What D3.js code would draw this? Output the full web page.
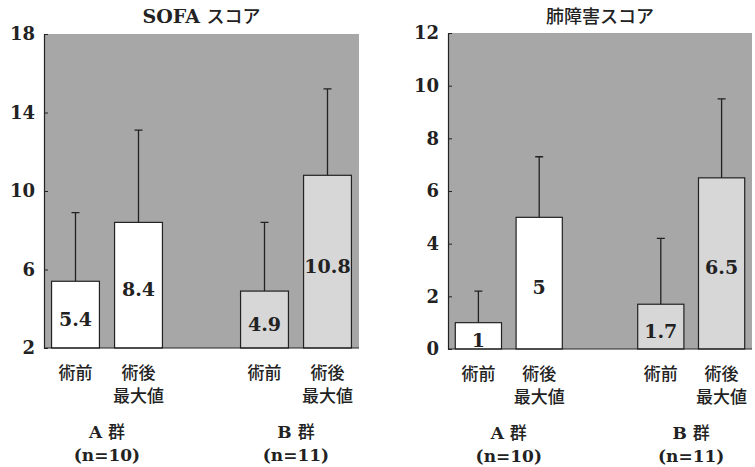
<!DOCTYPE html>
<html>
<head>
<meta charset="utf-8">
<script src="https://cdn.jsdelivr.net/npm/d3@7"></script>
<style>
  body { margin: 0; background: #fff; }
  svg { display: block; }
</style>
</head>
<body>
<div id="chart"></div>
<script>
const width = 755, height = 467;

// data
const slots = ["A0", "A1", "gap", "B0", "B1"];
const barKeys = ["A0", "A1", "B0", "B1"];
const barLabels = [["術前"], ["術後", "最大値"], ["術前"], ["術後", "最大値"]];
const groupLabels = [["A 群", "(n=10)"], ["B 群", "(n=11)"]];
const groupSlots = [["A0", "A1"], ["B0", "B1"]];

const sofaMean = [5.4, 8.4, 4.9, 10.8];
const sofaSD = [3.5, 4.7, 3.5, 4.4];
const sofaTicks = [2, 6, 10, 14, 18];

const lungMean = [1, 5, 1.7, 6.5];
const lungSD = [1.2, 2.3, 2.5, 3.0];
const lungTicks = [0, 2, 4, 6, 8, 10, 12];

const serif = "'DejaVu Serif', 'Liberation Serif', serif";
const cjk = "'Noto Sans CJK JP', sans-serif";
const bgGray = "#a7a7a7", bGray = "#d7d7d7", ink = "#222";

const svg = d3.select("#chart").append("svg")
  .attr("width", width).attr("height", height);

function panel(opt) {
  const x = d3.scaleBand().domain(slots)
    .range([opt.left, opt.right]).paddingInner(0.24).paddingOuter(0.12);
  const y = d3.scaleLinear().domain(opt.domain).range([opt.bottom, opt.top]);
  const g = svg.append("g");

  // gray plot area
  g.append("rect")
    .attr("x", opt.left).attr("y", opt.top)
    .attr("width", opt.right - opt.left).attr("height", opt.bottom - opt.top)
    .attr("fill", bgGray);

  // title
  const t = g.append("text")
    .attr("x", (opt.left + opt.right) / 2).attr("y", 23)
    .attr("text-anchor", "middle").attr("fill", ink);
  opt.title.forEach(p => {
    t.append("tspan").text(p[0])
      .attr("font-family", p[1] ? serif : cjk)
      .attr("font-weight", p[1] ? "bold" : 500)
      .attr("font-size", p[1] ? 19 : 18);
  });

  const data = barKeys.map((k, i) => ({k, i, m: opt.mean[i], sd: opt.sd[i]}));

  // error bars (upper only)
  const cap = 4;
  g.selectAll(".err").data(data).join("path")
    .attr("d", d => {
      const cx = x(d.k) + x.bandwidth() / 2;
      return `M${cx},${y(d.m)}V${y(d.m + d.sd)}M${cx - cap},${y(d.m + d.sd)}H${cx + cap}`;
    })
    .attr("stroke", ink).attr("stroke-width", 1.3).attr("fill", "none");

  // bars
  g.selectAll(".bar").data(data).join("rect")
    .attr("x", d => x(d.k)).attr("width", x.bandwidth())
    .attr("y", d => y(d.m)).attr("height", d => opt.bottom - y(d.m))
    .attr("fill", d => d.k[0] === "A" ? "#fff" : bGray)
    .attr("stroke", ink).attr("stroke-width", 1.2);

  // value labels
  g.selectAll(".val").data(data).join("text")
    .attr("x", d => x(d.k) + x.bandwidth() / 2)
    .attr("y", d => (y(d.m) + opt.bottom) / 2 + 11)
    .attr("text-anchor", "middle")
    .attr("font-family", serif).attr("font-weight", "bold").attr("font-size", 19)
    .attr("fill", ink)
    .text(d => d.m);

  // axis
  const ax = g.append("g")
    .attr("transform", `translate(${opt.left},0)`)
    .call(d3.axisLeft(y).tickValues(opt.ticks).tickSizeInner(-4).tickSizeOuter(0).tickPadding(9));
  ax.select(".domain").attr("stroke", ink).attr("stroke-width", 1.2);
  ax.selectAll(".tick line").attr("stroke", ink);
  ax.selectAll(".tick text")
    .attr("font-family", serif).attr("font-weight", "bold").attr("font-size", 18)
    .attr("fill", ink);

  // baseline
  g.append("line")
    .attr("x1", opt.left).attr("x2", opt.right)
    .attr("y1", opt.bottom).attr("y2", opt.bottom)
    .attr("stroke", ink).attr("stroke-width", 1);

  // category labels
  data.forEach(d => {
    barLabels[d.i].forEach((s, j) => {
      g.append("text")
        .attr("x", x(d.k) + x.bandwidth() / 2)
        .attr("y", opt.bottom + 31 + j * 23)
        .attr("text-anchor", "middle")
        .attr("font-family", cjk).attr("font-weight", 500)
        .attr("font-size", 17).attr("fill", ink)
        .text(s);
    });
  });

  // group labels
  groupLabels.forEach((lab, gi) => {
    const cx = (x(groupSlots[gi][0]) + x(groupSlots[gi][1]) + x.bandwidth()) / 2;
    const gt = g.append("text")
      .attr("x", cx).attr("y", opt.bottom + 90)
      .attr("text-anchor", "middle").attr("fill", ink);
    const parts = lab[0].split(" ");
    gt.append("tspan").text(parts[0] + " ")
      .attr("font-family", serif).attr("font-weight", "bold").attr("font-size", 17);
    gt.append("tspan").text(parts[1])
      .attr("font-family", cjk).attr("font-weight", 500).attr("font-size", 17);
    g.append("text")
      .attr("x", cx).attr("y", opt.bottom + 113)
      .attr("text-anchor", "middle").attr("fill", ink)
      .attr("font-family", serif).attr("font-weight", "bold").attr("font-size", 17)
      .text(lab[1]);
  });
}

panel({
  left: 44, right: 359, top: 34, bottom: 348,
  domain: [2, 18], ticks: sofaTicks,
  mean: sofaMean, sd: sofaSD,
  title: [["SOFA ", true], ["スコア", false]]
});

panel({
  left: 448, right: 752, top: 33, bottom: 349,
  domain: [0, 12], ticks: lungTicks,
  mean: lungMean, sd: lungSD,
  title: [["肺障害スコア", false]]
});
</script>
</body>
</html>
